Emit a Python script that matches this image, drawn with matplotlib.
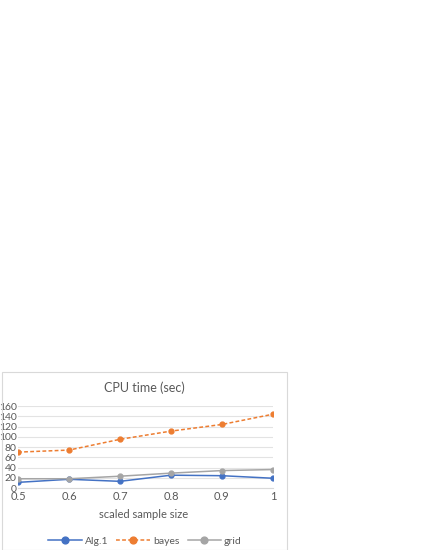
import matplotlib
matplotlib.use("Agg")
import matplotlib.pyplot as plt
from matplotlib.patches import Rectangle

# data
sizes = [0.5, 0.6, 0.7, 0.8, 0.9, 1.0]
alg1 = [11, 17, 13, 25, 24, 19]
bayes = [70, 74, 95, 111, 124, 144]
grid = [18, 18, 23, 29, 34, 36]
xticks = [0.5, 0.6, 0.7, 0.8, 0.9, 1.0]
xticklabels = ["0.5", "0.6", "0.7", "0.8", "0.9", "1"]
yticks = list(range(0, 161, 20))

plt.rcParams['font.family'] = ['Lato', 'DejaVu Sans']

fig = plt.figure(figsize=(4.25, 5.5), dpi=100)
W, H = 425, 550

# chart frame
fig.patches.append(Rectangle((2 / W, 0), 285 / W, 1 - 372 / H, transform=fig.transFigure,
                             fill=False, edgecolor='#D9D9D9', linewidth=0.8))

ax = fig.add_axes([18 / W, 1 - 488 / H, 255 / W, 82 / H])
ax.plot(sizes, alg1, color='#4472C4', lw=1.1, marker='o', ms=3.5, label='Alg.1')
ax.plot(sizes, bayes, color='#ED7D31', lw=1.1, ls=(0, (2.5, 1.5)), marker='o', ms=3.5, label='bayes')
ax.plot(sizes, grid, color='#A5A5A5', lw=1.1, marker='o', ms=3.5, label='grid')

ax.set_xlim(0.5, 1.0)
ax.set_ylim(0, 160)
ax.set_xticks(xticks)
ax.set_xticklabels(xticklabels)
ax.set_yticks(yticks)
ax.tick_params(length=0, labelsize=8, colors='#595959', pad=2)
ax.tick_params(axis='y', pad=1, labelsize=7.5)
ax.grid(axis='y', color='#E3E3E3', lw=0.8)
ax.set_axisbelow(True)
for s in ['top', 'right', 'left']:
    ax.spines[s].set_visible(False)
ax.spines['bottom'].set_color('#D9D9D9')

fig.text(144 / W, 1 - 388 / H, 'CPU time (sec)', ha='center', va='center',
         fontsize=9, color='#595959')
fig.text(144 / W, 1 - 514 / H, 'scaled sample size', ha='center', va='center',
         fontsize=8, color='#595959')

fig.legend(loc='center', bbox_to_anchor=(145 / W, 1 - 541 / H), ncol=3, frameon=False,
           fontsize=7.5, labelcolor='#595959', handlelength=3.2, columnspacing=0.8,
           handletextpad=0.3, markerscale=1.4)

fig.savefig('out.png', dpi=100, facecolor='white')
